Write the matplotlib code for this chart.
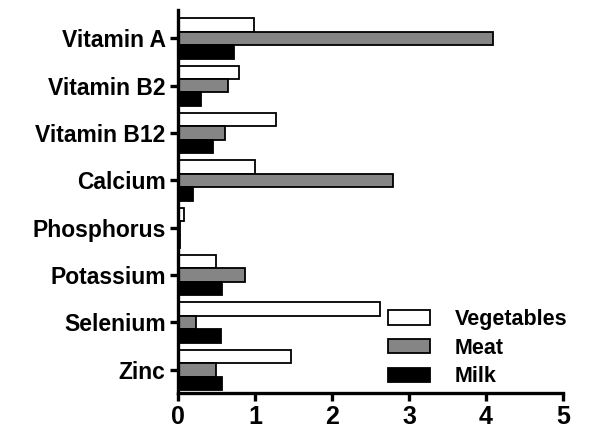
import matplotlib
matplotlib.use("Agg")
import matplotlib.pyplot as plt
import numpy as np

plt.rcParams['font.family'] = ['Liberation Sans', 'DejaVu Sans']
plt.rcParams['font.weight'] = 'bold'

nutrients = ["Vitamin A", "Vitamin B2", "Vitamin B12", "Calcium",
             "Phosphorus", "Potassium", "Selenium", "Zinc"]
vegetables = [0.99, 0.79, 1.27, 1.00, 0.08, 0.49, 2.62, 1.47]
meat = [4.09, 0.65, 0.61, 2.79, 0.02, 0.87, 0.23, 0.49]
milk = [0.73, 0.30, 0.45, 0.19, 0.03, 0.57, 0.56, 0.57]

fig = plt.figure(figsize=(6, 4.37), dpi=100)
ax = fig.add_axes([178/600, 44/437, 385/600, 383/437])

y = np.arange(len(nutrients))
h = 0.285
ax.barh(y - h, vegetables, h, color="white", edgecolor="black", linewidth=1.3, label="Vegetables")
ax.barh(y, meat, h, color="#858585", edgecolor="black", linewidth=1.3, label="Meat")
ax.barh(y + h, milk, h, color="black", edgecolor="black", linewidth=1.3, label="Milk")

ax.set_xlim(0, 5)
ax.set_ylim(7.49, -0.6)
ax.set_yticks(y)
ax.set_yticklabels(nutrients, fontsize=16.5, fontweight="bold")
ax.set_xticks(range(6))
ax.set_xticklabels([str(i) for i in range(6)], fontsize=18, fontweight="bold")
for s in ["top", "right"]:
    ax.spines[s].set_visible(False)
for s in ["left", "bottom"]:
    ax.spines[s].set_linewidth(2.4)
ax.tick_params(axis="both", width=2.4, length=6, direction="out")
ax.tick_params(axis="x", pad=3)
ax.tick_params(axis="y", pad=3)

leg = ax.legend(loc="upper left", bbox_to_anchor=(388/600, 1 - 309/437),
                bbox_transform=fig.transFigure, frameon=False, borderpad=0,
                borderaxespad=0, prop={"size": 15.5, "weight": "bold"},
                handlelength=1.95, handleheight=0.65, handletextpad=1.16,
                labelspacing=0.36)

fig.savefig("out.png", dpi=100)
